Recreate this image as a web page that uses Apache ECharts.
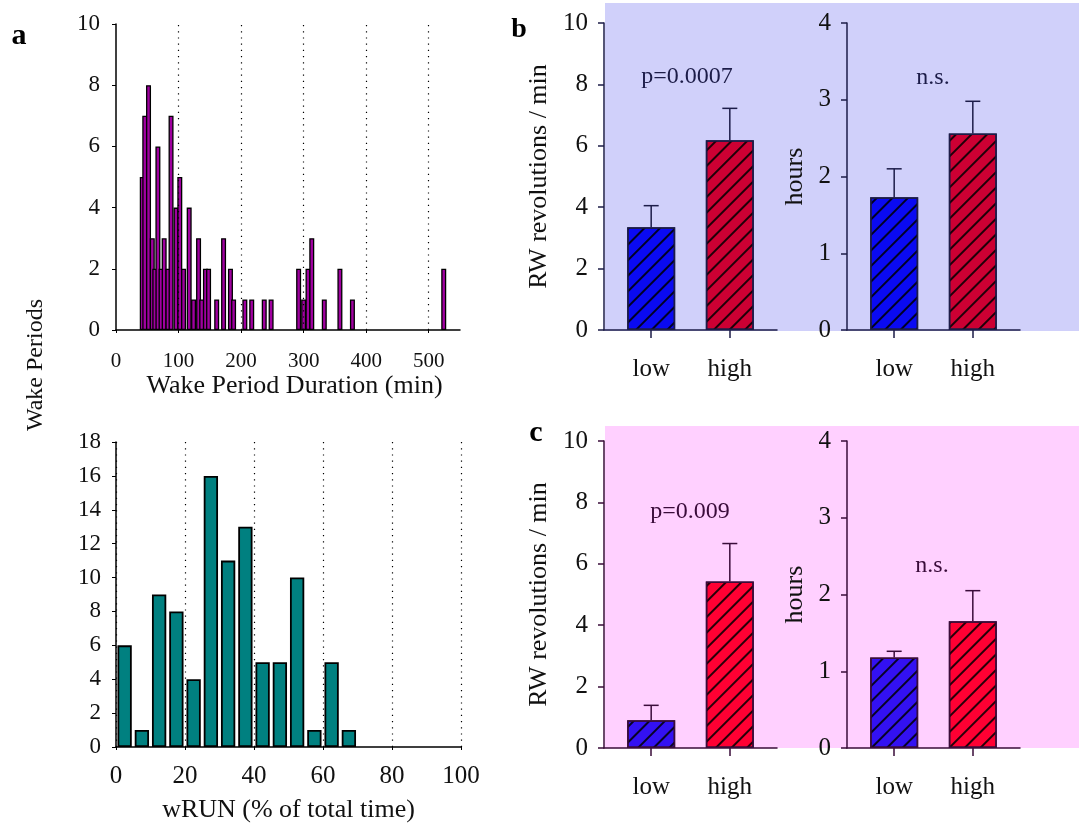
<!DOCTYPE html>
<html>
<head>
<meta charset="utf-8">
<script src="https://cdn.jsdelivr.net/npm/echarts@6/dist/echarts.min.js"></script>
<style>
html,body{margin:0;padding:0;background:#fff;}
#chart{width:1079px;height:824px;}
</style>
</head>
<body>
<div id="chart"></div>
<script>
// ---- Panel a (top): wake period durations histogram ----
const wakeDuration = [42, 46, 52, 58, 62, 67, 72, 77, 83, 88, 96, 102, 108, 117, 124, 132, 137, 143, 148, 161, 172, 183, 188, 206, 217, 237, 248, 292, 300, 307, 313, 333, 358, 378, 524];
const wakeCount    = [5, 7, 8, 3, 2, 6, 2, 3, 2, 7, 4, 5, 2, 4, 1, 3, 1, 2, 2, 1, 3, 2, 1, 1, 1, 1, 1, 2, 1, 2, 3, 1, 2, 1, 2];
const wakeTicks = [0, 100, 200, 300, 400, 500];
const wakeGridLines = [100, 200, 300, 400, 500];

// ---- Panel a (bottom): wRUN histogram ----
const wrunBinCenters = [2.5, 7.5, 12.5, 17.5, 22.5, 27.5, 32.5, 37.5, 42.5, 47.5, 52.5, 57.5, 62.5, 67.5];
const wrunCounts     = [6, 1, 9, 8, 4, 16, 11, 13, 5, 5, 10, 1, 5, 1];

// ---- Panels b and c ----
const groups = ['low', 'high'];
const groupPos = [0, 1];
const bRevMean = [3.35, 6.18];
const bRevErr  = [0.70, 1.04];
const bHoursMean = [1.73, 2.56];
const bHoursErr  = [0.37, 0.42];
const cRevMean = [0.90, 5.42];
const cRevErr  = [0.49, 1.24];
const cHoursMean = [1.18, 1.65];
const cHoursErr  = [0.08, 0.40];
const bColors = ['#0a0af2', '#cc0033'];
const cColors = ['#3311f2', '#ff0033'];

const FONT = "'Liberation Serif', 'Times New Roman', serif";
const B_INK = '#1c1c48';
const C_INK = '#3a0c3a';

const chart = echarts.init(document.getElementById('chart'), null, {renderer: 'canvas'});

const hatch = {
  symbol: 'rect', symbolSize: 1, color: 'rgba(0,0,0,0.85)',
  dashArrayX: [1, 0], dashArrayY: [1.4, 8.6], rotation: -Math.PI / 4
};

function catXAxis(gridIndex, ink) {
  return {
    type: 'value', gridIndex, min: -0.6, max: 1.6,
    axisLine: {show: true, onZero: false, lineStyle: {color: ink, width: 1.5}},
    axisTick: {show: true, length: 8, lineStyle: {color: ink, width: 1.5}, customValues: groupPos},
    axisLabel: {customValues: groupPos, formatter: v => groups[Math.round(v)], margin: 27,
      fontFamily: FONT, fontSize: 25, color: '#111'},
    splitLine: {show: false}
  };
}
function valYAxis(gridIndex, ink, max, interval, name, nameGap) {
  return {
    type: 'value', gridIndex, min: 0, max, interval,
    name, nameLocation: 'middle', nameGap, nameRotate: 90,
    nameTextStyle: {fontFamily: FONT, fontSize: 26, color: '#111'},
    axisLine: {show: true, onZero: false, lineStyle: {color: ink, width: 1.5}},
    axisTick: {show: true, length: 6, lineStyle: {color: ink, width: 1.5}},
    axisLabel: {margin: 16, fontFamily: FONT, fontSize: 25, color: '#111'},
    splitLine: {show: false}
  };
}
function barSeries(axisIdx, means, colors, ink) {
  return {
    type: 'bar', xAxisIndex: axisIdx, yAxisIndex: axisIdx, barWidth: 48,
    data: groupPos.map((p, i) => ({value: [p, means[i]], itemStyle: {color: colors[i]}})),
    itemStyle: {borderColor: ink, borderWidth: 1.5, decal: hatch},
    z: 3
  };
}
function errSeries(axisIdx, means, errs, ink) {
  return {
    type: 'custom', xAxisIndex: axisIdx, yAxisIndex: axisIdx, z: 2,
    data: groupPos.map((p, i) => [p, means[i], errs[i]]),
    encode: {x: 0, y: 1},
    renderItem: function (params, api) {
      const x = api.value(0), m = api.value(1), e = api.value(2);
      const p0 = api.coord([x, m]);
      const p1 = api.coord([x, m + e]);
      const st = {stroke: ink, lineWidth: 1.5};
      return {type: 'group', children: [
        {type: 'line', shape: {x1: p0[0], y1: p0[1], x2: p1[0], y2: p1[1]}, style: st},
        {type: 'line', shape: {x1: p1[0] - 7.5, y1: p1[1], x2: p1[0] + 7.5, y2: p1[1]}, style: st}
      ]};
    }
  };
}

const option = {
  backgroundColor: '#ffffff',
  animation: false,
  grid: [
    {left: 116, top: 24, width: 344, height: 306},
    {left: 116, top: 442, width: 345, height: 306},
    {left: 604, top: 23, width: 173, height: 307},
    {left: 847, top: 23, width: 173, height: 307},
    {left: 604, top: 441, width: 173, height: 307},
    {left: 847, top: 441, width: 173, height: 307}
  ],
  xAxis: [
    {
      type: 'value', gridIndex: 0, min: 0, max: 550,
      name: 'Wake Period Duration (min)', nameLocation: 'middle', nameGap: 43,
      nameTextStyle: {fontFamily: FONT, fontSize: 26, color: '#111', padding: [0, 0, 0, 13]},
      axisLine: {show: true, onZero: false, lineStyle: {color: '#000', width: 1.5}},
      axisTick: {show: true, length: 3, customValues: wakeTicks, lineStyle: {color: '#000'}},
      axisLabel: {customValues: wakeTicks, margin: 21, fontFamily: FONT, fontSize: 21, color: '#111'},
      splitLine: {show: false}
    },
    {
      type: 'value', gridIndex: 1, min: 0, max: 100, interval: 20,
      name: 'wRUN (% of total time)', nameLocation: 'middle', nameGap: 50,
      nameTextStyle: {fontFamily: FONT, fontSize: 26, color: '#111'},
      axisLine: {show: true, onZero: false, lineStyle: {color: '#000', width: 1.5}},
      axisTick: {show: true, length: 3, lineStyle: {color: '#000'}},
      axisLabel: {margin: 17, fontFamily: FONT, fontSize: 25, color: '#111'},
      splitLine: {show: true, lineStyle: {color: '#000', width: 1.2, type: [1.2, 5]}}
    },
    catXAxis(2, B_INK),
    catXAxis(3, B_INK),
    catXAxis(4, C_INK),
    catXAxis(5, C_INK)
  ],
  yAxis: [
    {
      type: 'value', gridIndex: 0, min: 0, max: 10, interval: 2,
      axisLine: {show: true, onZero: false, lineStyle: {color: '#000', width: 1.5}},
      axisTick: {show: true, length: 4, lineStyle: {color: '#000'}},
      axisLabel: {margin: 16, fontFamily: FONT, fontSize: 23, color: '#111'},
      splitLine: {show: false}
    },
    {
      type: 'value', gridIndex: 1, min: 0, max: 18, interval: 2,
      axisLine: {show: true, onZero: false, lineStyle: {color: '#000', width: 1.5}},
      axisTick: {show: true, length: 4, lineStyle: {color: '#000'}},
      axisLabel: {margin: 15, fontFamily: FONT, fontSize: 23, color: '#111'},
      splitLine: {show: false}
    },
    valYAxis(2, B_INK, 10, 2, 'RW revolutions / min', 52),
    valYAxis(3, B_INK, 4, 1, 'hours', 39),
    valYAxis(4, C_INK, 10, 2, 'RW revolutions / min', 52),
    valYAxis(5, C_INK, 4, 1, 'hours', 39)
  ],
  series: [
    {
      type: 'bar', xAxisIndex: 0, yAxisIndex: 0, barWidth: 5,
      data: wakeDuration.map((d, i) => [d, wakeCount[i]]),
      itemStyle: {color: '#a000a0', borderColor: '#000', borderWidth: 1.3},
      markLine: {
        silent: true, symbol: 'none', label: {show: false},
        lineStyle: {color: '#000', width: 1.2, type: [1.2, 5]},
        data: wakeGridLines.map(v => ({xAxis: v}))
      }
    },
    {
      type: 'bar', xAxisIndex: 1, yAxisIndex: 1, barWidth: 14.3,
      data: wrunBinCenters.map((c, i) => [c, wrunCounts[i]]),
      itemStyle: {color: '#008080', borderColor: '#000', borderWidth: 1.8},
      z: 3
    },
    barSeries(2, bRevMean, bColors, B_INK),
    errSeries(2, bRevMean, bRevErr, B_INK),
    barSeries(3, bHoursMean, bColors, B_INK),
    errSeries(3, bHoursMean, bHoursErr, B_INK),
    barSeries(4, cRevMean, cColors, C_INK),
    errSeries(4, cRevMean, cRevErr, C_INK),
    barSeries(5, cHoursMean, cColors, C_INK),
    errSeries(5, cHoursMean, cHoursErr, C_INK)
  ],
  graphic: [
    {type: 'rect', z: -10, shape: {x: 605, y: 3, width: 474, height: 328}, style: {fill: '#d0d0fa'}},
    {type: 'rect', z: -10, shape: {x: 605, y: 426, width: 474, height: 322}, style: {fill: '#ffd0ff'}},
    {type: 'text', x: 19, y: 36, style: {text: 'a', font: "bold 30px " + FONT, fill: '#000', align: 'center', verticalAlign: 'middle'}},
    {type: 'text', x: 519, y: 30, style: {text: 'b', font: "bold 28px " + FONT, fill: '#000', align: 'center', verticalAlign: 'middle'}},
    {type: 'text', x: 536, y: 433, style: {text: 'c', font: "bold 30px " + FONT, fill: '#000', align: 'center', verticalAlign: 'middle'}},
    {type: 'text', x: 36, y: 365, rotation: Math.PI / 2, style: {text: 'Wake Periods', font: "24px " + FONT, fill: '#111', align: 'center', verticalAlign: 'middle'}},
    {type: 'text', x: 687, y: 77, style: {text: 'p=0.0007', font: "24px " + FONT, fill: B_INK, align: 'center', verticalAlign: 'middle'}},
    {type: 'text', x: 933, y: 78, style: {text: 'n.s.', font: "24px " + FONT, fill: B_INK, align: 'center', verticalAlign: 'middle'}},
    {type: 'text', x: 690, y: 512, style: {text: 'p=0.009', font: "24px " + FONT, fill: C_INK, align: 'center', verticalAlign: 'middle'}},
    {type: 'text', x: 932, y: 566, style: {text: 'n.s.', font: "24px " + FONT, fill: C_INK, align: 'center', verticalAlign: 'middle'}}
  ]
};
chart.setOption(option);
</script>
</body>
</html>
